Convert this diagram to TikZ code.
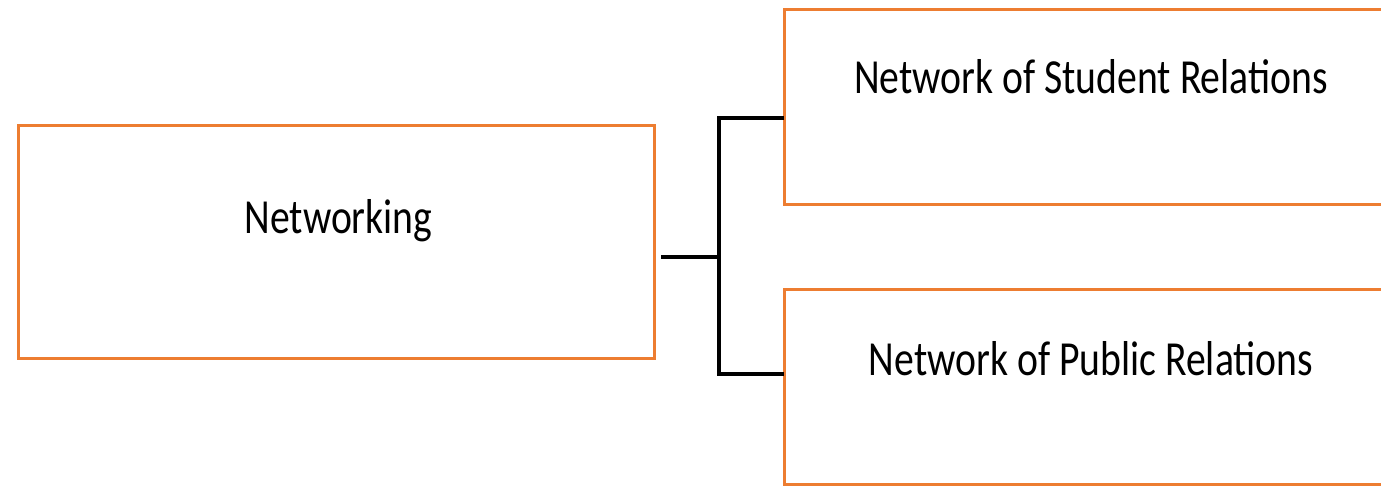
\documentclass[tikz,border=0pt]{standalone}
\usepackage{fontspec}
\setmainfont{Carlito}[FakeStretch=0.81]
\definecolor{boxorange}{HTML}{ED7D31}
\begin{document}
\begin{tikzpicture}[x=1pt,y=-1pt,
  box/.style={draw=boxorange, line width=3pt, fill=white, inner sep=0pt, outer sep=0pt},
  lbl/.style={anchor=base, inner sep=0pt, font=\fontsize{49}{59}\selectfont, text=black},
  conn/.style={draw=black, line width=3.2pt}]
\path[use as bounding box, clip] (0,0) rectangle (1381,486);
\fill[white] (0,0) rectangle (1381,486);
\node[box, minimum width=636pt, minimum height=232pt] (L) at (336,242) {};
\node[box, minimum width=640pt, minimum height=195pt] (A) at (1104,107.5) {};
\node[box, minimum width=640pt, minimum height=194pt] (B) at (1104,387) {};
\node[lbl] (tL) at (338.5,233.5) {Networking};
\node[lbl] (tA) at (1091,93.5) {Network of Student Relations};
\node[lbl] (tB) at (1091,375) {Network of Public Relations};
\coordinate (j) at (719,257);
\draw[conn] ([xshift=7pt,yshift=-15pt]L.east) -- (j);
\draw[conn] ([yshift=-10.5pt]A.west) -| (j) |- ([yshift=13pt]B.west);
\end{tikzpicture}
\end{document}
